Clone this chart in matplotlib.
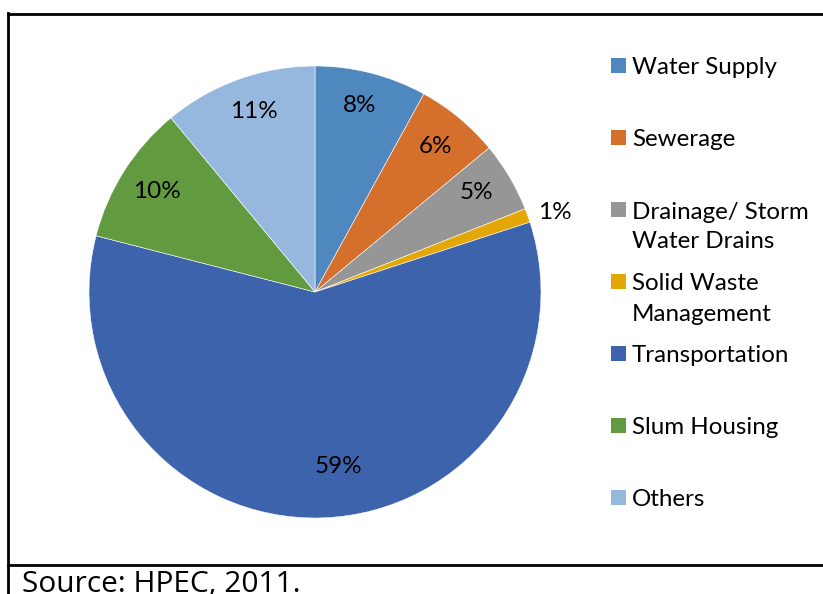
import numpy as np
import matplotlib
matplotlib.use("Agg")
import matplotlib.pyplot as plt
from matplotlib.lines import Line2D
from matplotlib.patches import Rectangle

# Share of investment by sector (%)
sectors = ["Water Supply", "Sewerage", "Drainage/ Storm\nWater Drains",
           "Solid Waste\nManagement", "Transportation", "Slum Housing", "Others"]
shares = [8, 6, 5, 1, 59, 10, 11]
colors = ["#4f87bf", "#d4702c", "#969696", "#e3a805", "#3d63ad", "#629a40", "#97b8de"]
source_note = "Source: HPEC, 2011."

W, H = 823, 594
fig = plt.figure(figsize=(W / 100, H / 100), dpi=100)


def fx(px):
    return px / W


def fy(py):
    return 1 - py / H


# pie sits in a square axes, centre (315, 292) px, radius 226 px
cx, cy, r = 315, 292, 226
ax = fig.add_axes([fx(cx - r), fy(cy + r), 2 * r / W, 2 * r / H])
wedges, _ = ax.pie(shares, colors=colors, startangle=90, counterclock=False,
                   radius=1.0, wedgeprops=dict(edgecolor="white", linewidth=0.4))
ax.set_xlim(-1, 1)
ax.set_ylim(-1, 1)
ax.set_aspect("equal")
ax.axis("off")

# percentage labels: radial distance and small angular nudge per slice
label_r = [0.85, 0.835, 0.84, 1.12, 0.78, 0.83, 0.845]
label_dang = [1, 0, 1, -1.5, 6, 0, -1]
for w, val, lr, da in zip(wedges, shares, label_r, label_dang):
    ang = np.deg2rad((w.theta1 + w.theta2) / 2 + da)
    ax.text(lr * np.cos(ang), lr * np.sin(ang), f"{val}%",
            ha="center", va="center", fontsize=17.5, family="Lato", color="black")

# legend drawn by hand so entries keep an even pitch
y0, step, line_h = 66, 72, 30
for i, (name, col) in enumerate(zip(sectors, colors)):
    yc = y0 + i * step
    fig.add_artist(Rectangle((fx(611), fy(yc + 7)), 15 / W, 15 / H,
                             transform=fig.transFigure, facecolor=col, edgecolor="none"))
    for j, part in enumerate(name.split("\n")):
        fig.text(fx(632), fy(yc + j * line_h), part, ha="left", va="center_baseline",
                 fontsize=17.4, family="Lato", color="black")

# frame around the chart, plus the rule above the source note
lw = 2
fig.add_artist(Line2D([fx(8), fx(823)], [fy(14), fy(14)], transform=fig.transFigure,
                      color="black", lw=lw))
fig.add_artist(Line2D([fx(8), fx(8)], [fy(13), fy(594)], transform=fig.transFigure,
                      color="black", lw=lw))
fig.add_artist(Line2D([fx(8), fx(823)], [fy(565), fy(565)], transform=fig.transFigure,
                      color="black", lw=lw))

fig.text(fx(22), fy(592), source_note, ha="left", va="baseline",
         fontsize=21.5, family="Open Sans", color="black")

fig.savefig("out.png", dpi=100)
